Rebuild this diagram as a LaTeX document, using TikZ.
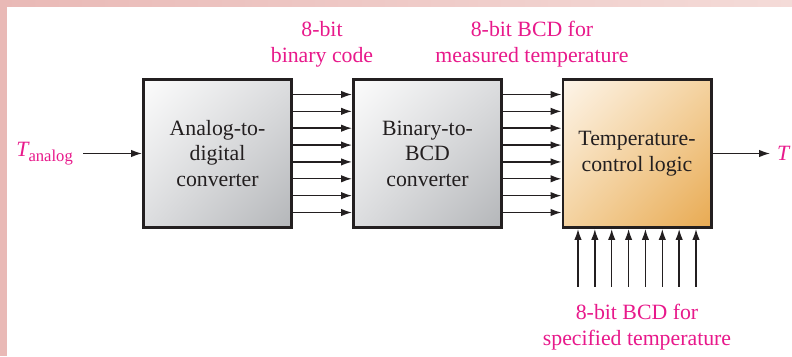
\documentclass[tikz,border=0pt]{standalone}
\usepackage{fontspec}
\setmainfont{Liberation Serif}
\usetikzlibrary{arrows.meta,shadings}
\definecolor{pinkbar}{HTML}{E9B9B6}
\definecolor{pinkbarlight}{HTML}{F4DBD8}
\definecolor{magtext}{HTML}{E8198B}
\definecolor{ink}{HTML}{231F20}
\definecolor{gUL}{HTML}{FCFCFC}
\definecolor{gMID}{HTML}{DCDDDF}
\definecolor{gLR}{HTML}{B4B6B9}
\definecolor{oUL}{HTML}{FDF5EA}
\definecolor{oMID}{HTML}{F4D29F}
\definecolor{oLR}{HTML}{E8AA52}
\tikzset{
  blockbox/.style={draw=ink, line width=2.8pt, minimum width=148.2pt, minimum height=148.2pt,
    align=center, text=ink, font=\fontsize{21.8}{25.5}\selectfont, inner sep=0pt},
  graybox/.style={blockbox, upper left=gUL, upper right=gMID, lower left=gMID, lower right=gLR},
  orangebox/.style={blockbox, upper left=oUL, upper right=oMID, lower left=oMID, lower right=oLR},
  lbl/.style={text=magtext, align=center, font=\fontsize{21.8}{26}\selectfont, inner sep=0pt},
  arr/.style={draw=ink, line width=1.4pt, -{Latex[length=11pt,width=7.5pt]}},
}
\begin{document}
\begin{tikzpicture}[x=1pt,y=1pt]
\useasboundingbox (0,0) rectangle (792,356);
\fill[white] (0,0) rectangle (792,356);
\fill[left color=pinkbar, right color=pinkbarlight] (0,349) rectangle (792,356);
\fill[pinkbar] (0,0) rectangle (7,356);
% blocks
\node[graybox] (a) at (217.5,202.5) {Analog-to-\\digital\\converter};
\node[graybox] (b) at (427.5,202.5) {Binary-to-\\BCD\\converter};
\node[orangebox] (c) at (637,202.5) {Temperature-\\control logic};
% labels
\node[lbl] (l1) at (322,311.7) {8-bit\\binary code};
\node[lbl] (l2) at (532,311.7) {8-bit BCD for\\measured temperature};
\node[lbl] (l3) at (637,28.7) {8-bit BCD for\\specified temperature};
% input / output
\node[text=magtext, anchor=east, inner xsep=10pt, inner ysep=0pt, font=\fontsize{21.8}{25}\selectfont] (tin) at (83,202.5)
  {\raisebox{0pt}{\itshape T}\raisebox{-5pt}{\fontsize{16.6}{16.6}\selectfont analog}};
\draw[arr] (tin.east) -- (a.west);
\coordinate (outend) at (770,202.5);
\draw[arr] (c.east) -- (outend);
\node[text=magtext, anchor=west, inner xsep=7pt, font=\fontsize{21.8}{25}\itshape\selectfont] (tout) at (outend) {T};
% buses
\foreach \d in {-59.0,-42.15,-25.3,-8.43,8.43,25.3,42.15,59.0} {
  \draw[arr] ([yshift=\d pt]a.east) -- ([yshift=\d pt]b.west);
  \draw[arr] ([yshift=\d pt]b.east) -- ([yshift=\d pt]c.west);
}
\coordinate (bot) at (637,69);
\foreach \d in {-59.0,-42.15,-25.3,-8.43,8.43,25.3,42.15,59.0} {
  \draw[arr] ([xshift=\d pt]bot) -- ([xshift=\d pt]c.south);
}
\end{tikzpicture}
\end{document}
